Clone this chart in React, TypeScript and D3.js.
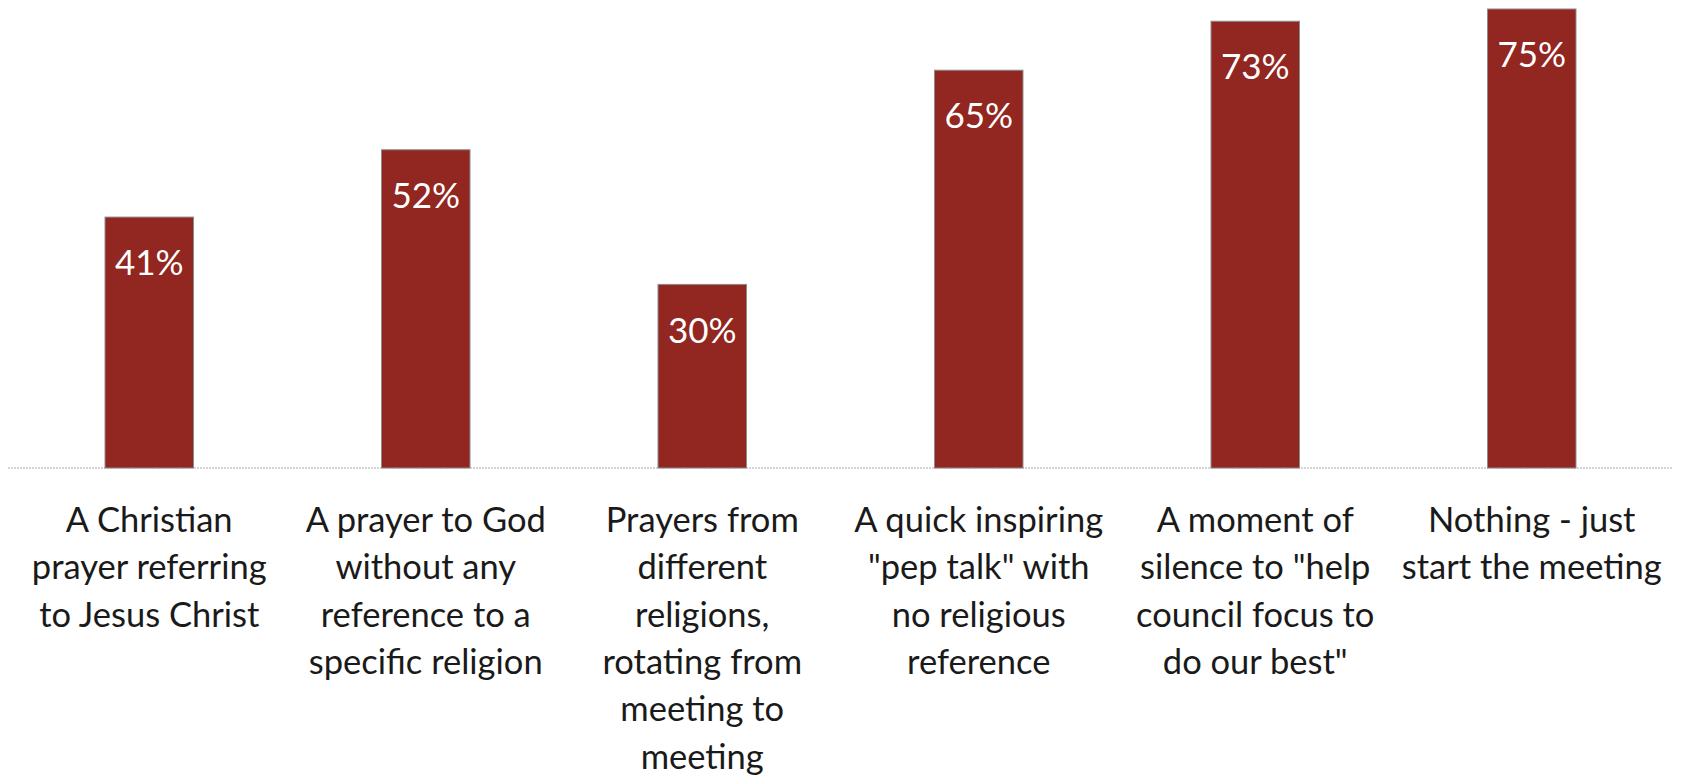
import React, { useEffect, useRef } from 'react';
import * as d3 from 'd3';

const categories = [
  'A Christian prayer referring to Jesus Christ',
  'A prayer to God without any reference to a specific religion',
  'Prayers from different religions, rotating from meeting to meeting',
  'A quick inspiring "pep talk" with no religious reference',
  'A moment of silence to "help council focus to do our best"',
  'Nothing - just start the meeting',
];

const values = [41, 52, 30, 65, 73, 75];

// tick labels as they wrap in the picture
const tickLines = [
  ['A Christian', 'prayer referring', 'to Jesus Christ'],
  ['A prayer to God', 'without any', 'reference to a', 'specific religion'],
  ['Prayers from', 'different', 'religions,', 'rotating from', 'meeting to', 'meeting'],
  ['A quick inspiring', '"pep talk" with', 'no religious', 'reference'],
  ['A moment of', 'silence to "help', 'council focus to', 'do our best"'],
  ['Nothing - just', 'start the meeting'],
];

export default function App() {
  const ref = useRef<SVGSVGElement>(null);

  useEffect(() => {
    document.body.style.margin = '0';
    if (!ref.current) return;
    const svg = d3.select(ref.current);
    svg.selectAll('*').remove();

    const font = 'Lato, "Open Sans", sans-serif';

    const x = d3.scaleBand<string>()
      .domain(categories)
      .range([11, 1670])
      .paddingInner(0.68)
      .paddingOuter(0.34);

    const y = d3.scaleLinear().domain([0, 75]).range([468, 9]);

    // baseline
    svg.append('line')
      .attr('x1', 8).attr('x2', 1673)
      .attr('y1', y(0)).attr('y2', y(0))
      .attr('stroke', '#c8c8c8')
      .attr('stroke-width', 1.5)
      .attr('stroke-dasharray', '2,1');

    const g = svg.append('g');

    g.selectAll('rect')
      .data(values)
      .enter()
      .append('rect')
      .attr('x', (_, i) => x(categories[i])!)
      .attr('width', x.bandwidth())
      .attr('y', d => y(d))
      .attr('height', d => y(0) - y(d))
      .attr('fill', '#922620')
      .attr('stroke', '#8c8c8c')
      .attr('stroke-width', 1);

    g.selectAll('text.val')
      .data(values)
      .enter()
      .append('text')
      .attr('class', 'val')
      .attr('x', (_, i) => x(categories[i])! + x.bandwidth() / 2)
      .attr('y', d => y(d) + 46)
      .attr('dy', '0.35em')
      .attr('text-anchor', 'middle')
      .style('font-family', font)
      .style('font-size', '35px')
      .style('fill', '#ffffff')
      .text(d => `${d}%`);

    // category labels
    tickLines.forEach((lines, i) => {
      const cx = x(categories[i])! + x.bandwidth() / 2;
      const t = svg.append('text')
        .attr('text-anchor', 'middle')
        .style('font-family', font)
        .style('font-size', '34.5px')
        .style('fill', '#1a1a1a');
      lines.forEach((ln, j) => {
        t.append('tspan')
          .attr('x', cx)
          .attr('y', 520 + j * 47.3)
          .attr('dy', '0.35em')
          .text(ln);
      });
    });
  }, []);

  return <svg ref={ref} width={1687} height={775} style={{ display: 'block', background: '#fff' }} />;
}
